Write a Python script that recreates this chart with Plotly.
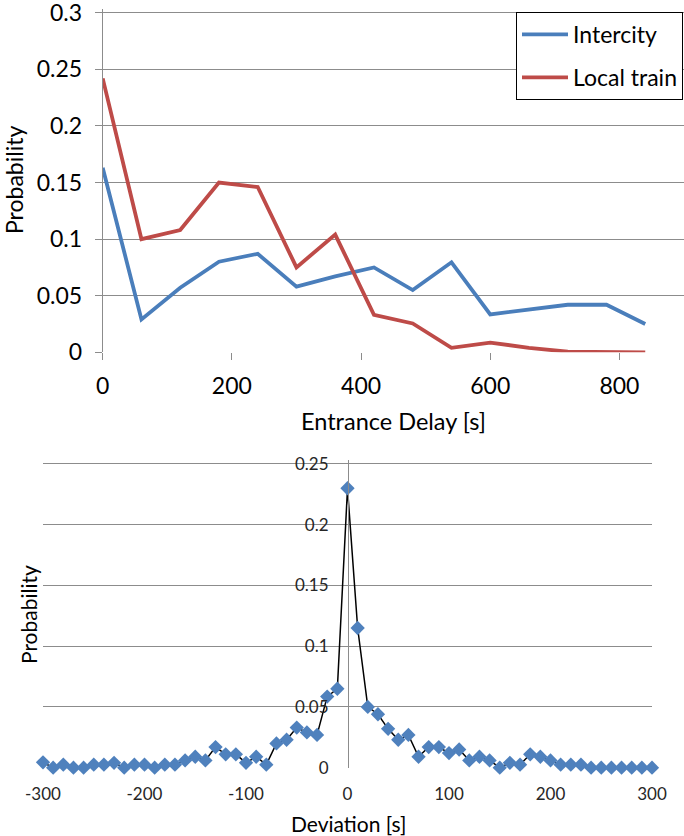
import plotly.graph_objects as go

# ---------------- data ----------------
delay_s = [0, 60, 120, 180, 240, 300, 360, 420, 480, 540, 600, 660, 720, 780, 840]
intercity = [0.163, 0.029, 0.057, 0.080, 0.087, 0.058, 0.067, 0.075, 0.055, 0.0795,
             0.0335, 0.038, 0.042, 0.042, 0.025]
local_train = [0.242, 0.100, 0.108, 0.150, 0.146, 0.075, 0.104, 0.033, 0.0255, 0.004,
               0.0085, 0.004, 0.0005, 0.0, 0.0]

deviation_s = list(range(-300, 301, 10))
deviation_prob = [
    0.0044, 0.0, 0.0025, 0.0, 0.0, 0.0025, 0.0025, 0.004, 0.0, 0.0025,   # -300..-210
    0.0025, 0.0, 0.0025, 0.0025, 0.006, 0.009, 0.006, 0.017, 0.011, 0.011,  # -200..-110
    0.004, 0.009, 0.0025, 0.020, 0.023, 0.033, 0.029, 0.027, 0.0585, 0.065,  # -100..-10
    0.230,                                                                   # 0
    0.115, 0.050, 0.044, 0.032, 0.023, 0.027, 0.009, 0.017, 0.017, 0.012,  # 10..100
    0.015, 0.006, 0.009, 0.006, 0.0, 0.004, 0.0025, 0.011, 0.009, 0.006,   # 110..200
    0.0025, 0.0025, 0.0025, 0.0, 0.0, 0.0, 0.0, 0.0, 0.0, 0.0,             # 210..300
]

top_xticks = [0, 200, 400, 600, 800]
top_yticks = [0, 0.05, 0.1, 0.15, 0.2, 0.25, 0.3]
top_yticklabels = ["0", "0.05", "0.1", "0.15", "0.2", "0.25", "0.3"]
bot_xticks = [-300, -200, -100, 0, 100, 200, 300]
bot_xticklabels = ["-300", "-200", "-100", "0", "100", "200", "300"]
bot_yticks = [0, 0.05, 0.1, 0.15, 0.2, 0.25]
bot_yticklabels = ["0", "0.05", "0.1", "0.15", "0.2", "0.25"]

# ---------------- layout geometry ----------------
W, H = 684, 836


def py(p):  # pixel y (from top) -> paper y
    return (H - p) / H


def px(p):
    return p / W


FONT = "Lato, 'Open Sans', sans-serif"
GRID = "#8c8c8c"
BLUE = "#4A7EBB"
RED = "#BE4B48"

TOP_YMAX = 0.303     # slightly above 0.3 so the 0.3 grid line is kept
BOT_YMAX = 0.2535

fig = go.Figure()

fig.add_trace(go.Scatter(x=delay_s, y=intercity, mode="lines", name="Intercity",
                         line=dict(color=BLUE, width=3.8), xaxis="x", yaxis="y",
                         legendgroup="a"))
fig.add_trace(go.Scatter(x=delay_s, y=local_train, mode="lines", name="Local train",
                         line=dict(color=RED, width=3.8), xaxis="x", yaxis="y",
                         legendgroup="b"))
fig.add_trace(go.Scatter(x=deviation_s, y=deviation_prob, mode="lines+markers",
                         showlegend=False, cliponaxis=False,
                         line=dict(color="black", width=1.5),
                         marker=dict(symbol="diamond", size=11, color="#4F81BD",
                                     line=dict(width=0)),
                         xaxis="x2", yaxis="y2"))

fig.update_layout(
    width=W, height=H,
    margin=dict(l=0, r=0, t=0, b=0, pad=0, autoexpand=False),
    paper_bgcolor="white", plot_bgcolor="white",
    font=dict(family=FONT, color="black"),
    xaxis=dict(domain=[px(102.7), 1.0], range=[0, 900], anchor="y", automargin=False,
               tickvals=top_xticks, ticks="outside", ticklen=7, tickcolor=GRID,
               showgrid=False, zeroline=False, showline=False,
               ticklabeloverflow="allow",
               tickfont=dict(size=23, color="black"), ticklabelstandoff=6),
    yaxis=dict(domain=[py(352.3), py(9.3)], range=[0, TOP_YMAX], anchor="x",
               automargin=False, ticklabeloverflow="allow",
               tickvals=top_yticks, ticktext=top_yticklabels,
               ticks="outside", ticklen=7, tickcolor=GRID,
               showgrid=True, gridcolor=GRID, gridwidth=1, zeroline=False,
               showline=True, linecolor=GRID, linewidth=1,
               tickfont=dict(size=23, color="black"), ticklabelstandoff=8),
    xaxis2=dict(domain=[px(43), px(652)], range=[-300, 300], anchor="y2", automargin=False,
                tickvals=bot_xticks, ticktext=bot_xticklabels, ticks="",
                showgrid=False, zeroline=False, ticklabeloverflow="allow",
                showline=False, tickfont=dict(size=17, color="#262626"),
                ticklabelstandoff=14),
    yaxis2=dict(domain=[py(767.7), py(459.7)], range=[0, BOT_YMAX], anchor="free",
                automargin=False, position=px(348), ticklabeloverflow="allow",
                tickvals=bot_yticks, ticktext=bot_yticklabels, ticks="",
                showgrid=True, gridcolor=GRID, gridwidth=1, zeroline=False,
                showline=True, linecolor=GRID, linewidth=1,
                tickfont=dict(size=17, color="#262626"), ticklabelstandoff=16),
    legend=dict(x=px(516), y=py(12), xanchor="left", yanchor="top",
                bgcolor="white", bordercolor="black", borderwidth=1,
                font=dict(size=23, color="black"), tracegroupgap=10,
                itemwidth=46),
    showlegend=True,
)

annots = [
    dict(text="Probability", x=px(14), y=py(180), textangle=-90, size=23),
    dict(text="Entrance Delay [s]", x=px(393), y=py(421), textangle=0, size=23.5),
    dict(text="Probability", x=px(28), y=py(615), textangle=-90, size=21),
    dict(text="Deviation [s]", x=px(348), y=py(823), textangle=0, size=21),
]
for a in annots:
    fig.add_annotation(text=a["text"], x=a["x"], y=a["y"], xref="paper", yref="paper",
                       xanchor="center", yanchor="middle", showarrow=False,
                       textangle=a["textangle"],
                       font=dict(size=a["size"], family=FONT, color="black"))

fig.write_html("out.html", config={"displayModeBar": False},
               post_script="document.body.style.margin='0';document.body.style.padding='0';")
